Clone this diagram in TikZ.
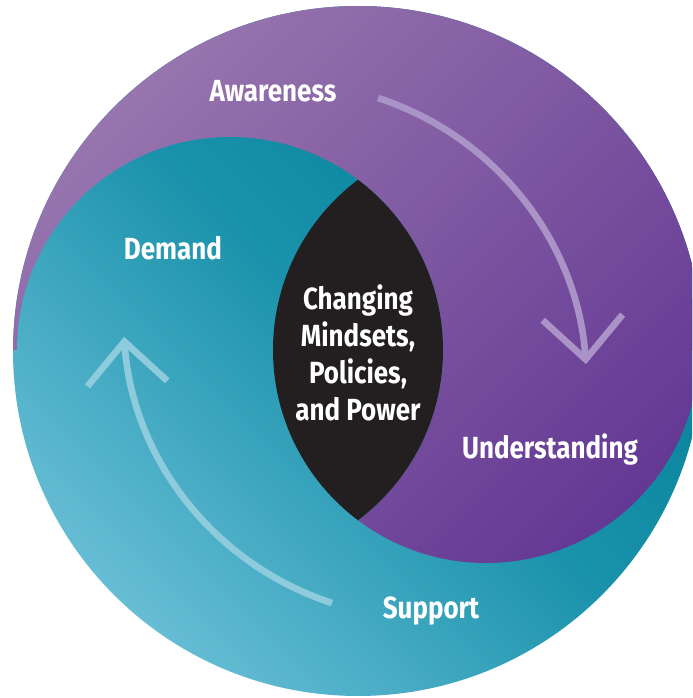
\documentclass[tikz,border=0pt]{standalone}
\usepackage{fontspec}
\newfontfamily\labelfont{Fira Sans}[FakeStretch=0.85]
\usetikzlibrary{arrows.meta}

\definecolor{purpleLight}{HTML}{9775AE}
\definecolor{purpleDark}{HTML}{603492}
\definecolor{tealLight}{HTML}{66BDD5}
\definecolor{tealMid}{HTML}{1A92AB}
\definecolor{tealDark}{HTML}{007C94}
\definecolor{lensBlack}{HTML}{231F20}
\definecolor{purpleArrow}{HTML}{AA93C6}
\definecolor{tealArrow}{HTML}{8ECBDC}

\begin{document}
\begin{tikzpicture}[
  stage/.style={text=white, inner sep=0pt, font=\labelfont\bfseries\fontsize{8.7}{10.5}\selectfont},
  purplefill/.style={top color=purpleLight, bottom color=purpleDark, shading angle=45},
  tealfill/.style={top color=tealDark, bottom color=tealLight, middle color=tealMid, shading angle=-45},
  loopline/.style={line width=1.9pt, -{Straight Barb[length=0.42cm, width=0.8cm, line cap=butt, line join=miter]}}]

\useasboundingbox (0,0) rectangle (6.92,6.98);
\clip (0,0) rectangle (6.92,6.98);

% centres: outer disc, left disc, right disc
\coordinate (O) at (3.58,3.47);
\coordinate (L) at (2.30,3.48);
\coordinate (R) at (4.86,3.48);

% --- discs ---
\shade[tealfill] (O) circle (3.45);
\begin{scope}
  \clip (0,3.48) rectangle (7,7);
  \shade[purplefill] (O) circle (3.45);
\end{scope}
\begin{scope}
  \clip (R) circle (2.13);
  \shade[purplefill] (O) circle (3.45);
\end{scope}
\begin{scope}
  \clip (L) circle (2.13);
  \shade[tealfill] (O) circle (3.45);
\end{scope}
% overlap of the two inner discs
\begin{scope}
  \clip (L) circle (2.13);
  \fill[lensBlack] (R) circle (2.13);
\end{scope}

% --- arrows ---
\coordinate (aw-tail) at (3.78,6.00);
\draw[loopline, purpleArrow] (aw-tail) arc[start angle=72, end angle=4, radius=3.02];
\coordinate (su-tail) at (3.32,0.95);
\draw[loopline, tealArrow] (su-tail) arc[start angle=252, end angle=184, radius=3.02];

% --- labels ---
\node[stage] (awareness) at (2.73,6.07) {Awareness};
\node[stage] (demand) at (1.73,4.50) {Demand};
\node[stage] (understanding) at (5.50,2.49) {Understanding};
\node[stage] (support) at (4.31,0.87) {Support};
\node[stage, align=center] (core) at (3.58,3.45) {Changing\\Mindsets,\\Policies,\\and Power};

\end{tikzpicture}
\end{document}
